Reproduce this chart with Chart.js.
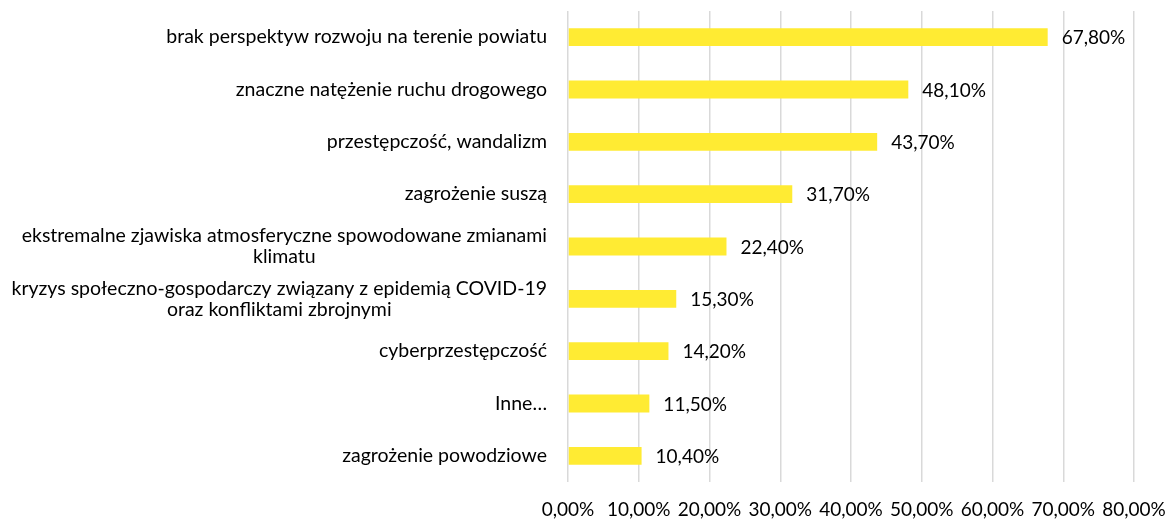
<!DOCTYPE html>
<html>
<head>
<meta charset="utf-8">
<script src="https://cdn.jsdelivr.net/npm/chart.js@4.4.1/dist/chart.umd.min.js"></script>
<style>
  html, body { margin: 0; padding: 0; background: #fff; }
  #wrap { width: 1170px; height: 521px; position: relative; }
</style>
</head>
<body>
<div id="wrap"><canvas id="c"></canvas></div>
<script>
// data
const categories = [
    ['brak perspektyw rozwoju na terenie powiatu'],
    ['znaczne natężenie ruchu drogowego'],
    ['przestępczość, wandalizm'],
    ['zagrożenie suszą'],
    ['ekstremalne zjawiska atmosferyczne spowodowane zmianami', 'klimatu'],
    ['kryzys społeczno-gospodarczy związany z epidemią COVID-19', 'oraz konfliktami zbrojnymi'],
    ['cyberprzestępczość'],
    ['Inne…'],
    ['zagrożenie powodziowe']
];
const values = [67.8, 48.1, 43.7, 31.7, 22.4, 15.3, 14.2, 11.5, 10.4];
const xTicks = [0, 10, 20, 30, 40, 50, 60, 70, 80];

const FONT = 'Lato, "Open Sans", sans-serif';
const LABEL_SIZE = 19.5;
const NUM_SIZE = 19;
const pct = v => v.toFixed(2).replace('.', ',') + '%';

// category labels: block right-aligned, lines centered inside the block (like Excel)
const yLabels = {
    id: 'yLabels',
    afterDraw(chart) {
        const ctx = chart.ctx;
        const ys = chart.scales.y;
        const right = chart.chartArea.left - 21;
        const lh = 21;
        ctx.save();
        ctx.font = LABEL_SIZE + 'px ' + FONT;
        ctx.fillStyle = '#000';
        ctx.textBaseline = 'middle';
        ctx.textAlign = 'center';
        categories.forEach((lines, i) => {
            const yc = ys.getPixelForValue(i);
            const w = Math.max(...lines.map(l => ctx.measureText(l).width));
            const cx = right - w / 2;
            lines.forEach((l, k) => {
                ctx.fillText(l, cx, yc + (k - (lines.length - 1) / 2) * lh);
            });
        });
        ctx.restore();
    }
};

// value labels to the right of each bar
const valueLabels = {
    id: 'valueLabels',
    afterDatasetsDraw(chart) {
        const ctx = chart.ctx;
        const meta = chart.getDatasetMeta(0);
        ctx.save();
        ctx.font = NUM_SIZE + 'px ' + FONT;
        ctx.fillStyle = '#000';
        ctx.textBaseline = 'middle';
        ctx.textAlign = 'left';
        meta.data.forEach((bar, i) => {
            ctx.fillText(pct(values[i]), bar.x + 14, bar.y + 1);
        });
        ctx.restore();
    }
};

new Chart(document.getElementById('c'), {
    type: 'bar',
    data: {
        labels: categories.map(c => c.join(' ')),
        datasets: [{
            data: values,
            backgroundColor: '#FFEB33',
            barPercentage: 0.68,
            categoryPercentage: 0.5
        }]
    },
    options: {
        indexAxis: 'y',
        responsive: true,
        maintainAspectRatio: false,
        animation: false,
        layout: { padding: { top: 11, right: 36, left: 0, bottom: 0 } },
        plugins: { legend: { display: false }, tooltip: { enabled: false } },
        scales: {
            x: {
                min: 0, max: 80,
                afterBuildTicks: s => { s.ticks = xTicks.map(v => ({ value: v })); },
                afterFit: s => { s.height = 39; s.paddingLeft = 0; s.paddingRight = 0; },
                grid: { color: '#D9D9D9', lineWidth: 1.5, drawTicks: false },
                border: { display: false },
                ticks: {
                    padding: 16,
                    color: '#000',
                    font: { family: FONT, size: NUM_SIZE },
                    callback: v => pct(v)
                }
            },
            y: {
                afterFit: s => { s.width = 568; },
                grid: { display: false },
                border: { display: false },
                ticks: { display: false }
            }
        }
    },
    plugins: [yLabels, valueLabels]
});
</script>
</body>
</html>
